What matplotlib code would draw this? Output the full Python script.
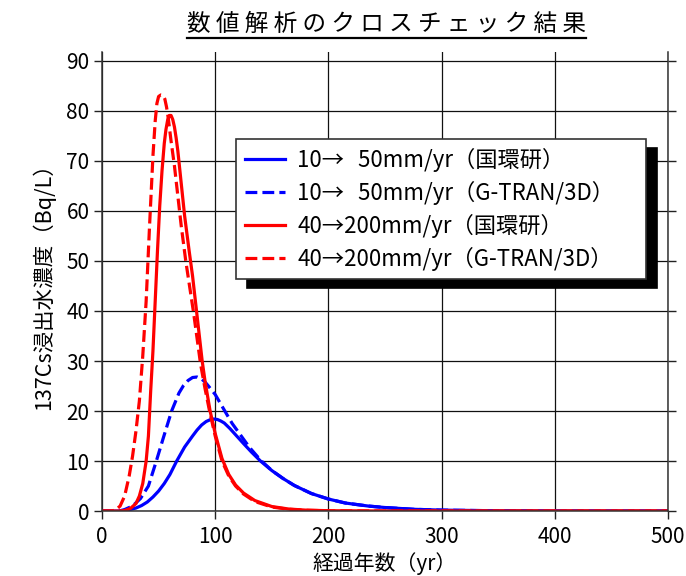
import matplotlib
matplotlib.use("Agg")
import matplotlib.pyplot as plt
from matplotlib.lines import Line2D

plt.rcParams['font.family'] = ['Noto Sans CJK JP', 'DejaVu Sans']

# 10→50mm/yr 国環研
blue_x = [0, 15, 20, 25, 30, 35, 40, 45, 50, 55, 60, 66, 73, 80, 84, 88, 92, 96, 99, 102, 105, 108,
          113, 119, 125, 132, 140, 150, 160, 170, 185, 200, 215, 235, 250, 275, 300, 350, 400, 500]
blue_y = [0, 0, 0.05, 0.3, 0.6, 1.1, 1.8, 2.8, 4, 5.5, 7.3, 10, 12.8, 15, 16.2, 17.2, 17.9, 18.3, 18.4, 18.3, 18.0, 17.6,
          16.5, 15, 13.5, 11.8, 10, 8.1, 6.5, 5.1, 3.5, 2.4, 1.6, 1.0, 0.7, 0.35, 0.18, 0.05, 0.01, 0]

# 10→50mm/yr G-TRAN/3D
blue_g_x = [0, 12, 16, 20, 27, 34, 41, 48, 54, 61.5, 68, 72, 76, 80, 84, 88, 91, 94, 100, 108.5, 115, 123,
            130, 140, 150, 160, 170, 185, 200, 215, 235, 250, 275, 300, 350, 400, 500]
blue_g_y = [0, 0, 0.05, 0.3, 1, 2.5, 5, 10, 14.5, 20, 23.6, 25.1, 26.1, 26.7, 26.8, 26.4, 25.8, 25, 23.3, 20, 17.5, 15,
            12.8, 10.2, 8.1, 6.5, 5.1, 3.5, 2.4, 1.6, 1.0, 0.7, 0.35, 0.18, 0.05, 0.01, 0]

# 40→200mm/yr 国環研
red_x = [0, 15, 20, 25, 30, 33, 36, 39, 41, 43, 45, 47, 49, 51, 53, 55, 56.5, 58, 59.5, 61, 62.5, 64, 65.5, 67,
         70, 73, 77, 80, 83.5, 86, 88.5, 91, 95.5, 100, 106, 112, 118, 125, 135, 150, 165, 180, 200, 250, 500]
red_y = [0, 0, 0.1, 0.5, 1.5, 3, 5.5, 10, 15, 24, 32, 42, 52, 61, 68, 73.5, 76.3, 78.2, 79.1, 79.1, 78.3, 76.8, 74.6, 72,
         65.5, 59, 52, 47, 40, 35, 30, 26, 20, 15.5, 10.5, 7.3, 5.2, 3.6, 2.1, 0.9, 0.4, 0.18, 0.06, 0, 0]

# 40→200mm/yr G-TRAN/3D
red_g_x = [0, 8, 12, 16, 20, 24, 27, 30, 33, 36, 39, 42, 45, 47, 48.5, 50, 52, 54, 55.5, 57, 58.5, 61, 64, 67,
           70, 74, 78, 81, 84, 87, 91, 95, 100, 106, 112, 118, 125, 135, 150, 165, 180, 200, 250, 500]
red_g_y = [0, 0, 0.2, 1, 3, 7, 11, 16, 22, 31, 42, 57, 71, 78, 81.5, 82.9, 83.2, 83.1, 82.4, 80.8, 78.6, 74, 69, 63,
           57, 50, 44, 39.5, 34.5, 29.5, 24.5, 20, 15, 10, 7, 5, 3.4, 1.9, 0.8, 0.35, 0.15, 0.05, 0, 0]

labels = ['10\u2192\u200750mm/yr（国環研）', '10\u2192\u200750mm/yr（G-TRAN/3D）',
          '40\u2192200mm/yr（国環研）', '40\u2192200mm/yr（G-TRAN/3D）']

fig = plt.figure(figsize=(6.86, 5.76), dpi=100)
ax = fig.add_axes([0.1487, 0.1128, 0.825, 0.797])

lw = 2.3
ax.plot(blue_x, blue_y, color='#0000ff', lw=lw, label=labels[0])
ax.plot(blue_g_x, blue_g_y, color='#0000ff', lw=lw, ls='--', label=labels[1])
ax.plot(red_x, red_y, color='#ff0000', lw=lw, label=labels[2])
ax.plot(red_g_x, red_g_y, color='#ff0000', lw=lw, ls='--', label=labels[3])

ax.set_xlim(0, 500)
ax.set_ylim(0, 91.8)
ax.set_xticks(range(0, 501, 100))
ax.set_yticks(range(0, 91, 10))
ax.grid(True, color='#111111', lw=0.9)
ax.set_axisbelow(True)

ax.spines['top'].set_visible(False)
for s in ['left', 'right', 'bottom']:
    ax.spines[s].set_color('#333333')
    ax.spines[s].set_linewidth(1.1)
ax.tick_params(axis='both', direction='out', length=6, width=1, color='#222222',
               labelsize=15, pad=3)
ax.tick_params(axis='x', pad=5)
ax.tick_params(axis='y', right=True)

ax.set_xlabel('経過年数（yr）', fontsize=15, labelpad=3)
ax.set_ylabel('137Cs浸出水濃度（Bq/L）', fontsize=15.5, labelpad=8)

leg = ax.legend(loc='upper left', bbox_to_anchor=(0.2367, 0.5054, 0.7243, 0.3051),
                mode='expand', fontsize=16, handlelength=1.8, handletextpad=0.55,
                labelspacing=0.4, borderpad=0.4, borderaxespad=0, handleheight=0.7,
                fancybox=False, framealpha=1, edgecolor='#333333',
                shadow={'ox': 7.7, 'oy': -6.5, 'color': 'black', 'alpha': 1})
leg.get_frame().set_linewidth(1.2)

title = fig.text(0.563, 1 - 24 / 576, ' '.join('数値解析のクロスチェック結果'),
                 fontsize=17, ha='center', va='center')

# underline the title
fig.canvas.draw()
bb = title.get_window_extent()
W, H = fig.bbox.width, fig.bbox.height
uy = (bb.y0 - 2) / H
fig.add_artist(Line2D([bb.x0 / W, bb.x1 / W], [uy, uy], color='black', lw=1.6,
                      transform=fig.transFigure))

fig.savefig('out.png', dpi=100)
